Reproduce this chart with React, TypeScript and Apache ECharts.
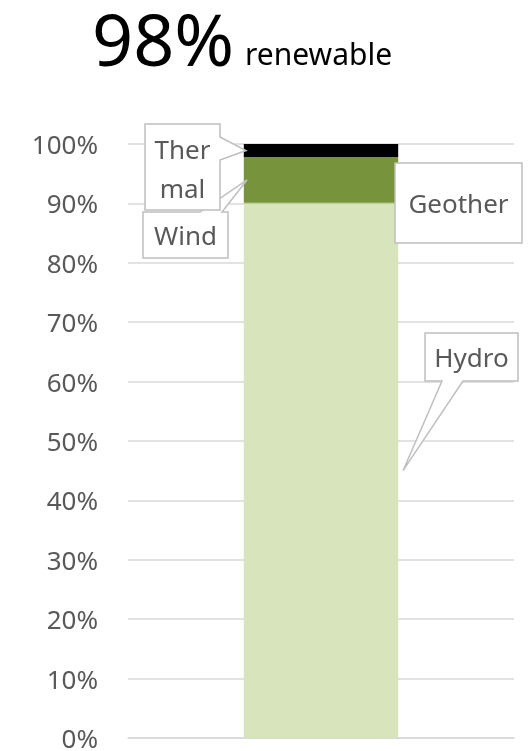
import React, { useEffect, useRef } from "react";
import * as echarts from "echarts";

const categories = ["Share"];
const seriesNames = ["Hydro", "Wind", "Geothermal", "Thermal"];
const hydro = [90];
const wind = [0.1];
const geothermal = [7.7];
const thermal = [2.2];
const yTicks = { min: 0, max: 100, interval: 10 };
const headline = "98%";
const subline = "renewable";

const FONT = '"Noto Sans", "DejaVu Sans", sans-serif';
const BOX_STROKE = "#bfbfbf";
const TEXT_COLOR = "#595959";

export default function App() {
  const ref = useRef<HTMLDivElement>(null);
  useEffect(() => {
    if (!ref.current) return;
    const chart = echarts.init(ref.current, null, { renderer: "svg" });
    const colors = ["#d8e4bc", "#9bbb59", "#77933c", "#000000"];
    const data = [hydro, wind, geothermal, thermal];
    chart.setOption({
      animation: false,
      grid: { left: 128, right: 14, top: 144, bottom: 12 },
      xAxis: {
        type: "category",
        data: categories,
        axisLabel: { show: false },
        axisTick: { show: false },
        axisLine: { show: true, lineStyle: { color: "#d9d9d9", width: 1.5 } },
      },
      yAxis: {
        type: "value",
        min: yTicks.min,
        max: yTicks.max,
        interval: yTicks.interval,
        axisLine: { show: false },
        axisTick: { show: false },
        axisLabel: {
          formatter: "{value}%",
          color: TEXT_COLOR,
          fontSize: 26,
          lineHeight: 22,
          fontFamily: FONT,
          margin: 30,
        },
        splitLine: { lineStyle: { color: "#d9d9d9", width: 1.5 } },
      },
      series: seriesNames.map((name, i) => ({
        name,
        type: "bar",
        stack: "total",
        barWidth: "40%",
        data: data[i],
        itemStyle: { color: colors[i] },
      })),
    });

    const h = hydro[0], w = wind[0], g = geothermal[0], t = thermal[0];
    const px = (v: number) =>
      chart.convertToPixel({ xAxisIndex: 0, yAxisIndex: 0 }, [0, v]) as number[];
    const center = px(0)[0];
    const halfBar = 77;
    const leftEdge = center - halfBar;
    const rightEdge = center + halfBar;
    const yThermal = px(h + w + g + t / 2)[1];
    const yWind = px(h + w + g / 2)[1];
    const yHydro = px(h / 2)[1];

    const boxStyle = { fill: "#fff", stroke: BOX_STROKE, lineWidth: 1.5 };
    const labelStyle = (text: string, x: number, y: number) => ({
      type: "text",
      z: 110,
      x,
      y,
      style: {
        text,
        fill: TEXT_COLOR,
        font: `26px ${FONT}`,
        align: "center",
        verticalAlign: "middle",
        lineHeight: 39,
      },
    });

    chart.setOption({
      graphic: [
        {
          type: "text",
          x: 92,
          y: 38,
          style: {
            text: headline,
            fill: "#000",
            font: `72px ${FONT}`,
            lineHeight: 60,
            align: "left",
            verticalAlign: "middle",
          },
        },
        {
          type: "text",
          x: 245,
          y: 53,
          style: {
            text: subline,
            fill: "#000",
            font: `30px ${FONT}`,
            align: "left",
            verticalAlign: "middle",
          },
        },
        {
          type: "polygon",
          z: 100,
          shape: {
            points: [
              [143, 212],
              [200, 212],
              [leftEdge + 3, yWind],
              [222, 212],
              [228, 212],
              [228, 258],
              [143, 258],
            ],
          },
          style: boxStyle,
        },
        labelStyle("Wind", 185.5, 235),
        {
          type: "polygon",
          z: 102,
          shape: {
            points: [
              [145, 124],
              [220, 124],
              [220, 137],
              [leftEdge + 2, yThermal],
              [220, 160],
              [220, 210],
              [145, 210],
            ],
          },
          style: boxStyle,
        },
        labelStyle("Ther\nmal", 182.5, 168),
        {
          type: "rect",
          z: 100,
          shape: { x: 395, y: 163, width: 127, height: 80 },
          style: boxStyle,
        },
        labelStyle("Geother", 458.5, 203),
        {
          type: "polygon",
          z: 100,
          shape: {
            points: [
              [425, 333],
              [518, 333],
              [518, 381],
              [463, 381],
              [rightEdge + 5, yHydro],
              [442, 381],
              [425, 381],
            ],
          },
          style: boxStyle,
        },
        labelStyle("Hydro", 471.5, 357),
      ],
    });
    return () => chart.dispose();
  }, []);
  return <div ref={ref} style={{ width: 528, height: 751, position: "fixed", left: 0, top: 0 }} />;
}
